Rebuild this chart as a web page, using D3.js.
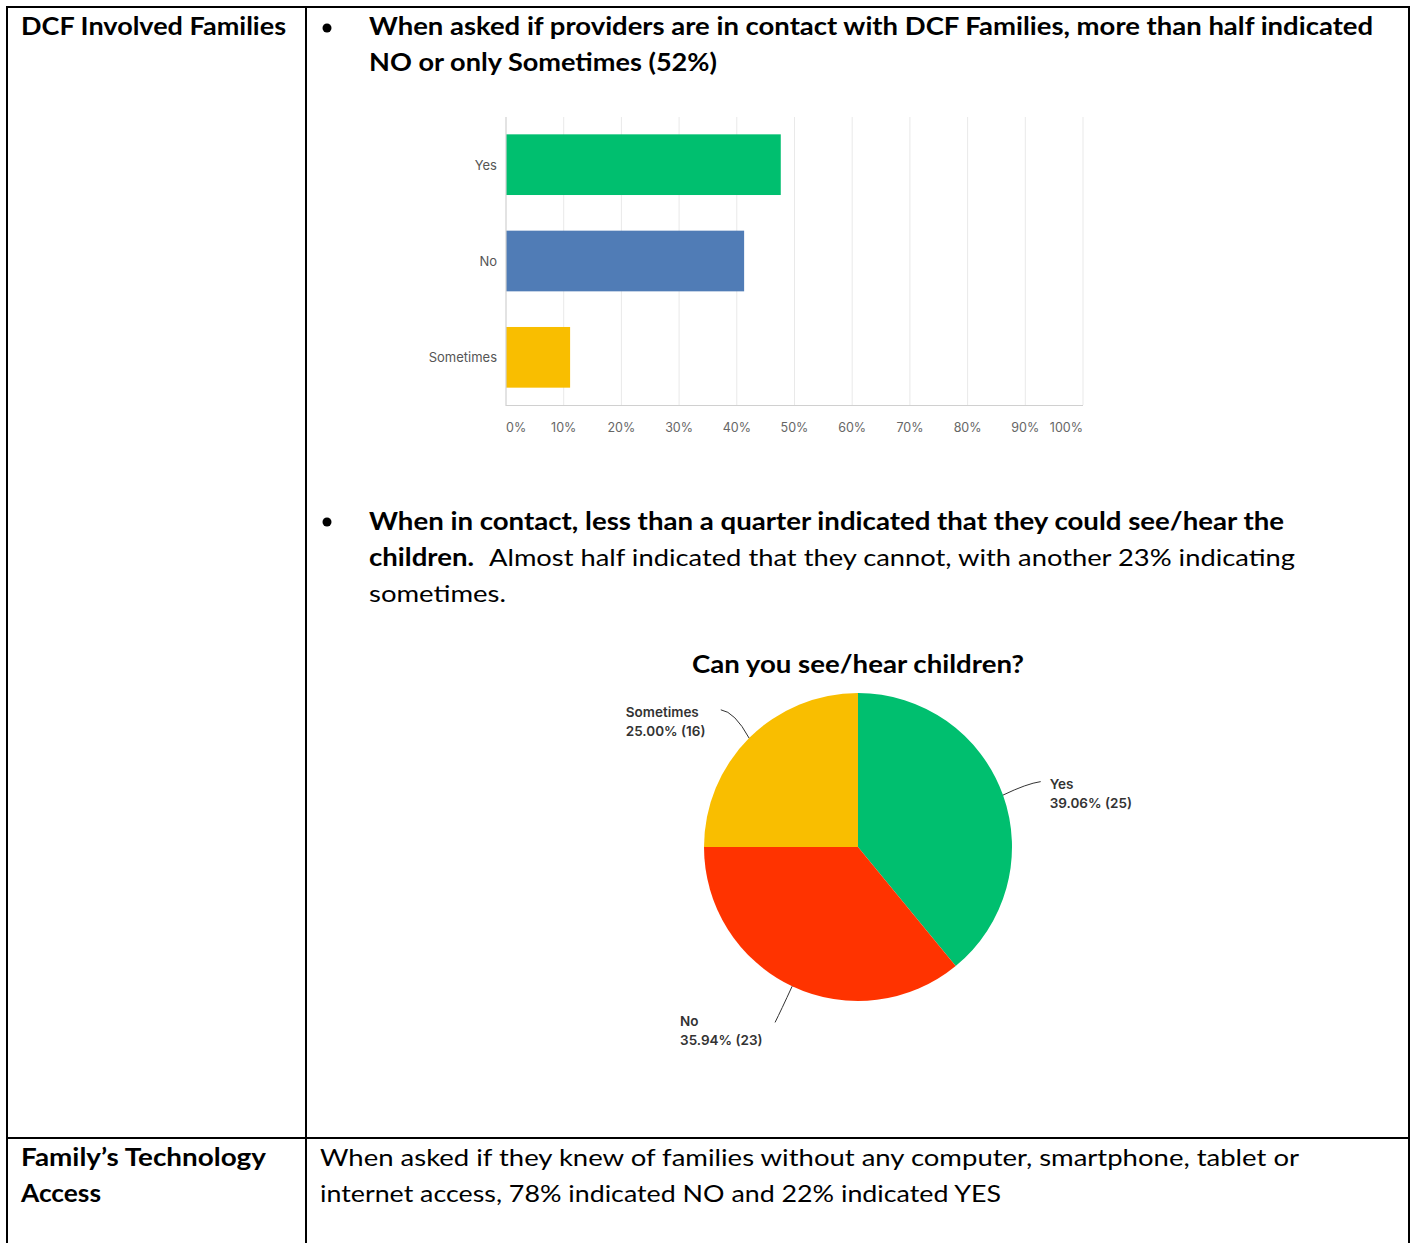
<!DOCTYPE html>
<html lang="en">
<head>
<meta charset="utf-8">
<title>DCF Involved Families</title>
<script src="https://d3js.org/d3.v7.min.js"></script>
<style>
  body { margin: 0; background: #fff; }
  svg { display: block; }
</style>
</head>
<body>
<div id="chart"></div>
<script>
// bar chart: are providers in contact with DCF families
const barCategories = ["Yes", "No", "Sometimes"];
const barValues = [47.62, 41.27, 11.11];
const barColors = ["#00bf6f", "#507cb6", "#f9be00"];
const xTicks = [0, 10, 20, 30, 40, 50, 60, 70, 80, 90, 100];

// pie chart: can you see/hear children
const pieCategories = ["Yes", "No", "Sometimes"];
const piePercents = [39.06, 35.94, 25.00];
const pieCounts = [25, 23, 16];
const pieColors = ["#00bf6f", "#ff3300", "#f9be00"];

const W = 1412, H = 1243;
const docFont = "Lato, 'Open Sans', sans-serif";
const chartFont = "Inter, Roboto, sans-serif";

const svg = d3.select("#chart").append("svg")
    .attr("width", W)
    .attr("height", H);

svg.append("rect").attr("width", W).attr("height", H).attr("fill", "#fff");

// table borders
const borders = svg.append("g").attr("stroke", "#000").attr("stroke-width", 2);
borders.append("line").attr("x1", 6).attr("x2", 1410).attr("y1", 7).attr("y2", 7);
borders.append("line").attr("x1", 6).attr("x2", 1410).attr("y1", 1138).attr("y2", 1138);
borders.append("line").attr("x1", 7).attr("x2", 7).attr("y1", 6).attr("y2", H);
borders.append("line").attr("x1", 306).attr("x2", 306).attr("y1", 6).attr("y2", H);
borders.append("line").attr("x1", 1409).attr("x2", 1409).attr("y1", 6).attr("y2", H);

// document text, fitted to the widths in the original (Calibri)
function docText(x, y, str, w, bold) {
    svg.append("text")
        .attr("x", x).attr("y", y)
        .attr("font-family", docFont)
        .attr("font-size", 24)
        .attr("font-weight", bold ? 700 : 400)
        .attr("fill", "#000")
        .attr("textLength", w)
        .attr("lengthAdjust", "spacingAndGlyphs")
        .text(str);
}

docText(21, 35, "DCF Involved Families", 265, true);
docText(369, 35, "When asked if providers are in contact with DCF Families, more than half indicated", 1004, true);
docText(369, 71, "NO or only Sometimes (52%)", 348, true);
docText(369, 530, "When in contact, less than a quarter indicated that they could see/hear the", 915, true);
docText(369, 566, "children.", 105, true);
docText(489, 566, "Almost half indicated that they cannot, with another 23% indicating", 806, false);
docText(369, 602, "sometimes.", 137, false);
docText(21, 1166, "Family\u2019s Technology", 245, true);
docText(21, 1202, "Access", 80, true);
docText(320, 1166, "When asked if they knew of families without any computer, smartphone, tablet or", 979, false);
docText(320, 1202, "internet access, 78% indicated NO and 22% indicated YES", 681, false);

[28, 522].forEach(cy => svg.append("circle").attr("cx", 327).attr("cy", cy).attr("r", 4.5).attr("fill", "#000"));

// ---- bar chart ----
const x = d3.scaleLinear().domain([0, 100]).range([506, 1083]);
const y = d3.scaleBand().domain(barCategories).range([117, 405]).paddingInner(0.37).paddingOuter(0.18);

const bars = svg.append("g");
bars.selectAll("line.grid")
    .data(xTicks.slice(1))
    .join("line")
    .attr("class", "grid")
    .attr("x1", d => x(d)).attr("x2", d => x(d))
    .attr("y1", 117).attr("y2", 405)
    .attr("stroke", "#e9e9e9").attr("stroke-width", 1);

bars.selectAll("rect")
    .data(barCategories)
    .join("rect")
    .attr("x", x(0))
    .attr("y", d => y(d))
    .attr("width", (d, i) => x(barValues[i]) - x(0))
    .attr("height", y.bandwidth())
    .attr("fill", (d, i) => barColors[i]);

bars.append("line").attr("x1", x(0)).attr("x2", x(0)).attr("y1", 117).attr("y2", 406)
    .attr("stroke", "#d0d0d0").attr("stroke-width", 1.2);
bars.append("line").attr("x1", x(0)).attr("x2", x(100)).attr("y1", 405.5).attr("y2", 405.5)
    .attr("stroke", "#d0d0d0").attr("stroke-width", 1.2);

bars.selectAll("text.cat")
    .data(barCategories)
    .join("text")
    .attr("class", "cat")
    .attr("x", 497)
    .attr("y", d => y(d) + y.bandwidth() / 2 + 5)
    .attr("text-anchor", "end")
    .attr("font-family", chartFont)
    .attr("font-size", 13)
    .attr("fill", "#555")
    .text(d => d);

bars.selectAll("text.tick")
    .data(xTicks)
    .join("text")
    .attr("class", "tick")
    .attr("x", d => x(d))
    .attr("y", 432)
    .attr("text-anchor", (d, i) => i === 0 ? "start" : (i === xTicks.length - 1 ? "end" : "middle"))
    .attr("font-family", chartFont)
    .attr("font-size", 12.5)
    .attr("fill", "#666")
    .text(d => d + "%");

// ---- pie chart ----
const cx = 858, cy = 847, R = 154;

svg.append("text")
    .attr("x", cx).attr("y", 673)
    .attr("text-anchor", "middle")
    .attr("font-family", docFont)
    .attr("font-size", 24)
    .attr("font-weight", 700)
    .attr("textLength", 332)
    .attr("lengthAdjust", "spacingAndGlyphs")
    .text("Can you see/hear children?");

const pie = d3.pie().sort(null).value(d => d)(piePercents);
const arc = d3.arc().innerRadius(0).outerRadius(R);

const pg = svg.append("g").attr("transform", `translate(${cx},${cy})`);
pg.selectAll("path")
    .data(pie)
    .join("path")
    .attr("d", arc)
    .attr("fill", (d, i) => pieColors[i]);

// leader lines and labels
const polar = (a, r) => [r * Math.sin(a), -r * Math.cos(a)];
pie.forEach((d, i) => {
    const mid = (d.startAngle + d.endAngle) / 2;
    const p0 = polar(mid, R);
    const p2 = polar(mid, R * 1.26);
    const right = p2[0] > 0;
    const below = p2[1] > 60;
    // bend the end of the leader towards its label
    const ctrl = below ? [p2[0] + 6, p2[1] - 12] : [p2[0] + (right ? -14 : 14), p2[1] + 2];
    pg.append("path")
        .attr("d", `M${p0[0]},${p0[1]} Q${ctrl[0]},${ctrl[1]} ${p2[0]},${p2[1]}`)
        .attr("fill", "none")
        .attr("stroke", "#333")
        .attr("stroke-width", 1);

    const lx = right ? p2[0] + 9 : p2[0] - 95;
    const ly = below ? p2[1] + 4 : p2[1] + 7;
    const t = pg.append("text")
        .attr("font-family", chartFont)
        .attr("font-size", 13.5)
        .attr("font-weight", 600)
        .attr("fill", "#333");
    t.append("tspan").attr("x", lx).attr("y", ly).text(pieCategories[i]);
    t.append("tspan").attr("x", lx).attr("y", ly + 19)
        .text(piePercents[i].toFixed(2) + "% (" + pieCounts[i] + ")");
});
</script>
</body>
</html>
